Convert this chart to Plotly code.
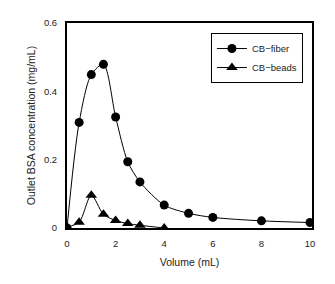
import plotly.graph_objects as go

volume_fiber = [0, 0.5, 1, 1.5, 2, 2.5, 3, 4, 5, 6, 8, 10]
conc_fiber = [0.0, 0.309, 0.449, 0.479, 0.325, 0.194, 0.135, 0.067, 0.043, 0.031, 0.021, 0.016]
volume_beads = [0, 0.5, 1, 1.5, 2, 2.5, 3, 4]
conc_beads = [0.003, 0.017, 0.096, 0.040, 0.022, 0.013, 0.008, 0.0]
x_ticks = [0, 2, 4, 6, 8, 10]
y_ticks = [0, 0.2, 0.4, 0.6]
y_tick_labels = ["0", "0.2", "0.4", "0.6"]

font = "Liberation Sans, Arial, sans-serif"

fig = go.Figure()
fig.add_trace(go.Scatter(
    x=volume_fiber, y=conc_fiber, name="CB\u2212fiber", mode="lines+markers",
    line=dict(color="black", width=1, shape="spline", smoothing=0.8),
    marker=dict(symbol="circle", size=9, color="black"),
))
fig.add_trace(go.Scatter(
    x=volume_beads, y=conc_beads, name="CB\u2212beads", mode="lines+markers",
    line=dict(color="black", width=1, shape="spline", smoothing=0.8),
    marker=dict(symbol="triangle-up", size=10, color="black"),
))

fig.update_layout(
    width=335, height=284,
    margin=dict(l=67, r=23, t=23, b=56, autoexpand=False),
    paper_bgcolor="white", plot_bgcolor="white",
    font=dict(family=font, size=10, color="#222222"),
    showlegend=True,
    legend=dict(
        x=0.963, y=0.951, xanchor="right", yanchor="top",
        bordercolor="black", borderwidth=1, bgcolor="white",
        font=dict(size=9.5), itemwidth=30, tracegroupgap=0,
    ),
    xaxis=dict(
        range=[0, 10.08], tickvals=x_ticks, showgrid=False, zeroline=False,
        showline=True, linecolor="black", linewidth=2, mirror=True,
        ticks="", tickfont=dict(size=9.5), ticklabelstandoff=6, automargin=False,
        title=dict(text="Volume (mL)", font=dict(size=10.5), standoff=10),
    ),
    yaxis=dict(
        range=[0, 0.6], tickvals=y_ticks, ticktext=y_tick_labels, showgrid=False, zeroline=False,
        showline=True, linecolor="black", linewidth=2, mirror=True,
        ticks="", tickfont=dict(size=9.5), ticklabelstandoff=6, automargin=False,
        title=dict(text="Outlet BSA concentration (mg/mL)", font=dict(size=10.5), standoff=6),
    ),
)

fig.write_html(
    "out.html",
    config={"displayModeBar": False},
    post_script="document.body.style.margin='0';document.body.style.padding='0';",
)
